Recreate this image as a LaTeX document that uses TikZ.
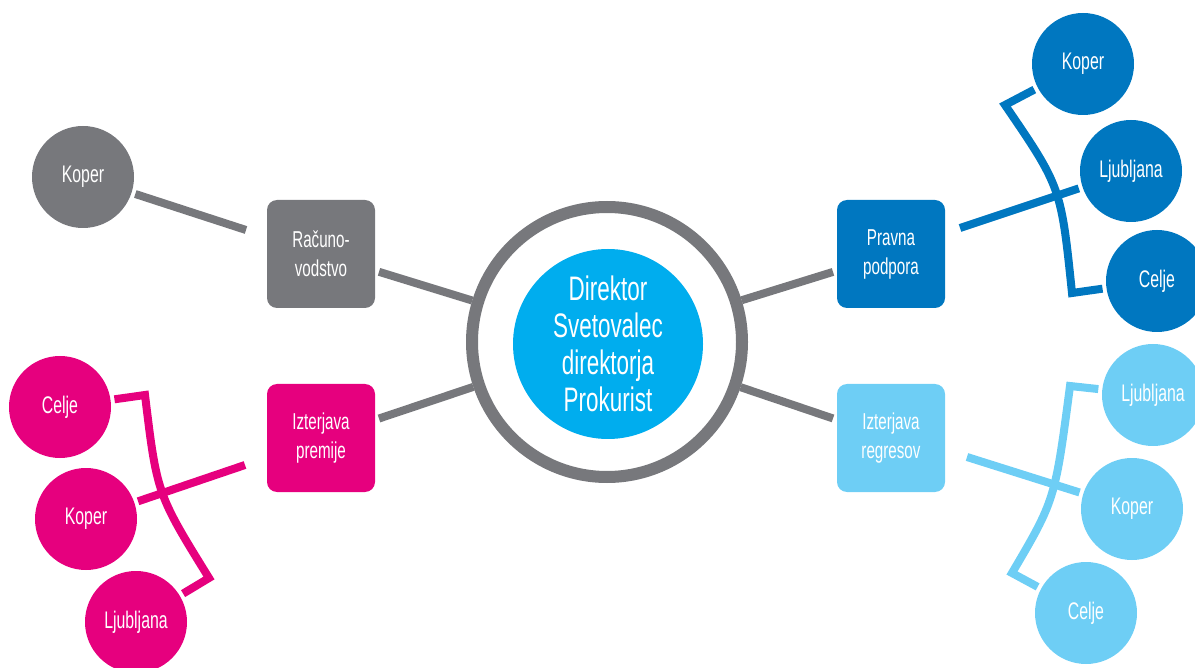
\documentclass[tikz,border=0pt]{standalone}
\usepackage{fontspec}
\setmainfont{Liberation Sans}[FakeStretch=0.66]
\usepackage{xcolor}
\definecolor{mygray}{RGB}{119,120,124}
\definecolor{mypink}{RGB}{230,0,126}
\definecolor{myblue}{RGB}{0,119,192}
\definecolor{mylight}{RGB}{110,206,245}
\definecolor{mycyan}{RGB}{0,173,238}

\begin{document}
\begin{tikzpicture}[x=1pt,y=-1pt,line width=8pt,line join=miter]
  \tikzstyle{every node}=[text=white,font=\fontsize{23}{29}\selectfont,align=center]
  \tikzstyle{leaf}=[circle,minimum size=102pt,inner sep=0pt,font=\fontsize{24}{29}\selectfont]
  \tikzstyle{dept}=[rectangle,rounded corners=10pt,minimum size=108pt,inner sep=0pt]

  \useasboundingbox (0,0) rectangle (1195,668);

  % middle
  \node[circle,draw=mygray,line width=12pt,fill=white,minimum size=270pt] (ring) at (607,342) {};
  \node[circle,fill=mycyan,minimum size=190pt,font=\fontsize{34}{37}\selectfont] (dir) at (608,344)
    {Direktor\\Svetovalec\\direktorja\\Prokurist};

  % departments
  \node[dept,fill=mygray]  (rac) at (321,254) {Računo-\\vodstvo};
  \node[dept,fill=mypink]  (izp) at (321,438) {Izterjava\\premije};
  \node[dept,fill=myblue]  (pra) at (891,254) {Pravna\\podpora};
  \node[dept,fill=mylight] (izr) at (891,438) {Izterjava\\regresov};

  \path[draw=mygray] (ring) -- (rac)
                     (ring) -- (izp)
                     (ring) -- (pra)
                     (ring) -- (izr);

  % offices
  \node[leaf,fill=mygray]  (kopg) at (83,177)   {Koper};
  \node[leaf,fill=mypink]  (celp) at (60,407)   {Celje};
  \node[leaf,fill=mypink]  (kopp) at (86,519)   {Koper};
  \node[leaf,fill=mypink]  (ljp)  at (136,622)  {Ljubljana};
  \node[leaf,fill=myblue]  (kopb) at (1083,64)  {Koper};
  \node[leaf,fill=myblue]  (ljb)  at (1131,171) {Ljubljana};
  \node[leaf,fill=myblue]  (celb) at (1157,281) {Celje};
  \node[leaf,fill=mylight] (ljl)  at (1153,395) {Ljubljana};
  \node[leaf,fill=mylight] (kopl) at (1132,509) {Koper};
  \node[leaf,fill=mylight] (cell) at (1086,613) {Celje};

  \coordinate (gend) at (246,230);
  \coordinate (pend) at (245,465);
  \coordinate (bend) at (960,228);
  \coordinate (lend) at (967,457);
  \coordinate (pa) at (145,395);
  \coordinate (pb) at (209,578);
  \coordinate (ba) at (1005,105);
  \coordinate (bb) at (1072,293);
  \coordinate (la) at (1070,386);
  \coordinate (lb) at (1012,573);

  \draw[mygray] (kopg) -- (gend);

  \draw[mypink] (kopp) -- (pend);
  \draw[mypink] (celp) -- (pa) .. controls (157,494) .. (pb) -- (ljp);

  \draw[myblue] (bend) -- (ljb);
  \draw[myblue] (kopb) -- (ba) .. controls (1061,187) .. (bb) -- (celb);

  \draw[mylight] (lend) -- (kopl);
  \draw[mylight] (ljl) -- (la) .. controls (1055,500) .. (lb) -- (cell);
\end{tikzpicture}
\end{document}
